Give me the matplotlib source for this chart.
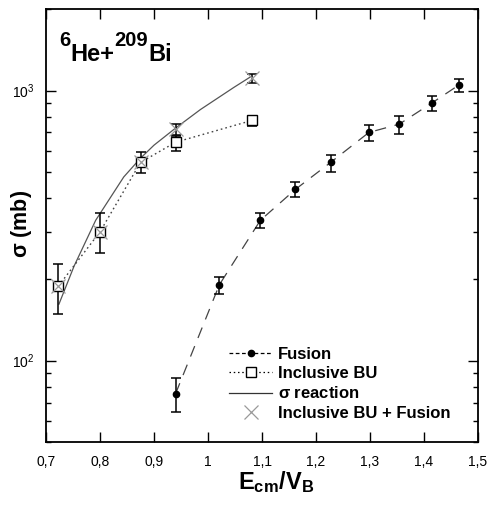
import numpy as np
import matplotlib
matplotlib.use("Agg")
import matplotlib.pyplot as plt
from matplotlib.lines import Line2D

plt.rcParams['font.family'] = ['Liberation Sans', 'DejaVu Sans']
plt.rcParams['mathtext.fontset'] = 'custom'
plt.rcParams['mathtext.rm'] = 'Liberation Sans'
plt.rcParams['mathtext.bf'] = 'Liberation Sans:bold'
plt.rcParams['mathtext.default'] = 'regular'

# ---- data ----
fus_x = [0.940, 1.021, 1.097, 1.162, 1.227, 1.298, 1.354, 1.415, 1.465]
fus_y = [75.5, 191, 331, 431, 542, 700, 751, 901, 1050]
fus_lo = [64.5, 176, 311, 402, 501, 653, 692, 843, 990]
fus_hi = [86, 204, 351, 458, 578, 745, 804, 956, 1101]

bu_x = [0.723, 0.800, 0.875, 0.940, 1.082]
bu_y = [189, 300, 542, 644, 776]
bu_lo = [149, 251, 497, 600, 738]
bu_hi = [229, 351, 594, 678, 804]

sum_x = [0.723, 0.800, 0.875, 0.940, 1.082]
sum_y = [189, 300, 545, 718, 1110]
sum_lo = [189, 300, 545, 682, 1070]
sum_hi = [189, 300, 545, 755, 1150]

reac_x = [0.724, 0.752, 0.792, 0.844, 0.875, 0.900, 0.939, 0.986, 1.048, 1.078]
reac_y = [162, 224, 331, 479, 562, 628, 724, 851, 1028, 1122]

xtick_vals = [0.7, 0.8, 0.9, 1.0, 1.1, 1.2, 1.3, 1.4, 1.5]
xtick_labels = ['0,7', '0,8', '0,9', '1', '1,1', '1,2', '1,3', '1,4', '1,5']
ytick_vals = [100, 1000]
ytick_labels = [r'$10^2$', r'$10^3$']

title_parts = [('6', 'sup'), ('He+', 'main'), ('209', 'sup'), ('Bi', 'main')]

W, H = 491, 505
fig = plt.figure(figsize=(W/100, H/100), dpi=100)
ax = fig.add_axes([46/W, 1-442/H, (478-46)/W, (442-9.3)/H])
ax.set_yscale('log')
ax.set_xlim(0.7, 1.5)
ax.set_ylim(50, 2000)

def asym(y, lo, hi):
    y = np.array(y); return [y - np.array(lo), np.array(hi) - y]

# reaction curve
ax.plot(reac_x, reac_y, '-', color='#555555', lw=0.9, zorder=2)
# inclusive BU
ax.plot(bu_x, bu_y, ls=(0, (1.2, 2.2)), color='#444444', lw=1.0, zorder=2)
ax.errorbar(bu_x, bu_y, yerr=asym(bu_y, bu_lo, bu_hi), fmt='none', ecolor='black',
            elinewidth=1.1, capsize=3.5, capthick=1.1, zorder=3)
ax.plot(bu_x, bu_y, 's', mfc='white', mec='black', ms=6.5, mew=1.0, zorder=4)
# fusion
ax.plot(fus_x, fus_y, ls=(0, (9, 7)), color='#444444', lw=0.9, zorder=2)
ax.errorbar(fus_x, fus_y, yerr=asym(fus_y, fus_lo, fus_hi), fmt='none', ecolor='black',
            elinewidth=1.1, capsize=3.5, capthick=1.1, zorder=3)
ax.plot(fus_x, fus_y, 'o', color='black', ms=4.5, zorder=4)
# BU + fusion crosses
idx = [3, 4]
ax.errorbar([sum_x[i] for i in idx], [sum_y[i] for i in idx],
            yerr=asym([sum_y[i] for i in idx], [sum_lo[i] for i in idx], [sum_hi[i] for i in idx]),
            fmt='none', ecolor='black', elinewidth=1.1, capsize=3.5, capthick=1.1, zorder=3)
ax.plot(sum_x, sum_y, 'x', color='#999999', ms=10, mew=0.9, zorder=5)

# axes styling
ax.set_xticks(xtick_vals, xtick_labels)
ax.set_yticks(ytick_vals, ytick_labels)
ax.tick_params(axis='both', which='major', direction='in', length=7, width=1.0,
               top=True, right=True, labelsize=10)
ax.tick_params(axis='y', which='minor', direction='in', length=3.7, width=1.0, right=True, left=True)
ax.tick_params(axis='x', which='major', pad=9.5)
ax.tick_params(axis='y', which='major', pad=8)
ax.xaxis.set_minor_locator(matplotlib.ticker.NullLocator())
for s in ax.spines.values():
    s.set_linewidth(1.3)

# title made of pieces with large superscripts
renderer = fig.canvas.get_renderer()
xpx = 59.0
for txt, kind in title_parts:
    if kind == 'sup':
        t = fig.text(xpx/W, 1-46/H, txt, fontsize=14.5, fontweight='bold', va='baseline', ha='left')
    else:
        t = fig.text(xpx/W, 1-61/H, txt, fontsize=17, fontweight='bold', va='baseline', ha='left')
    bb = t.get_window_extent(renderer)
    xpx = bb.x1

fig.text(276/W, 1-482/H, r'$\mathbf{E_{cm}/V_B}$', fontsize=17, ha='center', va='center')
fig.text(22/W, 1-224/H, r'$\mathbf{\sigma}$ (mb)', fontsize=15.5, fontweight='bold',
         rotation=90, ha='center', va='center')

handles = [
    Line2D([], [], ls=(0, (3, 2)), color='black', lw=0.9, marker='o', ms=4.5),
    Line2D([], [], ls=(0, (1.2, 2.2)), color='black', lw=0.9, marker='s', mfc='white', mec='black', ms=6.5),
    Line2D([], [], ls='-', color='#333333', lw=0.9),
    Line2D([], [], ls='none', marker='x', color='#999999', ms=10, mew=0.9),
]
labels = ['Fusion', 'Inclusive BU', r'$\mathbf{\sigma}$ reaction', 'Inclusive BU + Fusion']
leg = ax.legend(handles, labels, loc='upper left', bbox_to_anchor=((229-46)/432, (442-347)/433),
                frameon=False, handlelength=2.6, handletextpad=0.35, labelspacing=0.25,
                borderaxespad=0, borderpad=0, prop={'weight': 'bold', 'size': 12})

fig.savefig('out.png', dpi=100)
